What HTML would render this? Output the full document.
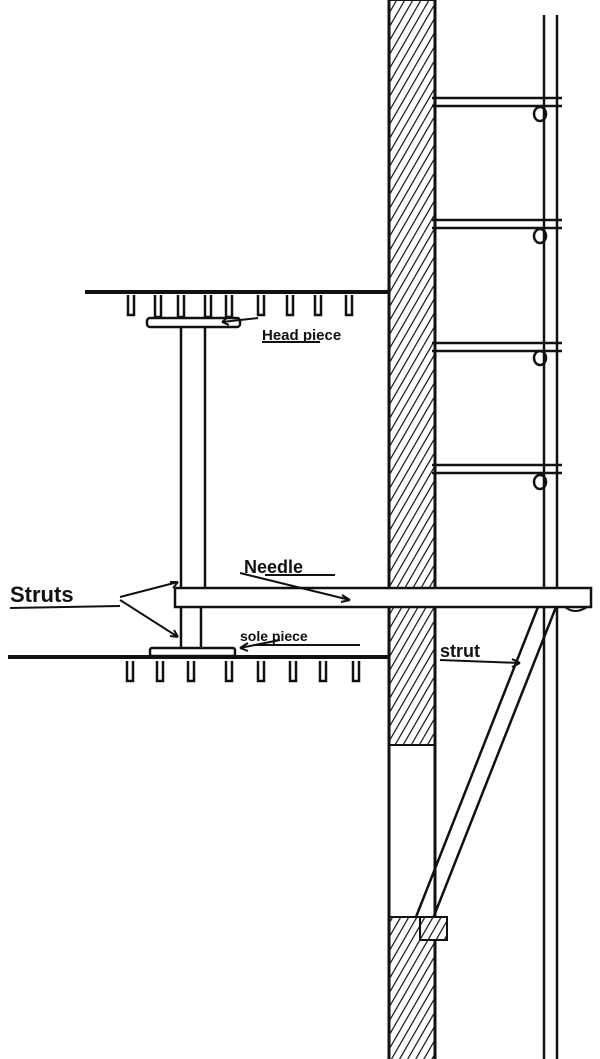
<!DOCTYPE html>
<html><head><style>
html,body{margin:0;padding:0;background:#fff;}
svg{display:block;}
text{font-family:"Liberation Sans",sans-serif;font-weight:bold;fill:#111;}
</style></head><body>
<svg width="600" height="1059" viewBox="0 0 600 1059" xmlns="http://www.w3.org/2000/svg">
<defs>
<pattern id="h" width="7" height="7" patternUnits="userSpaceOnUse" patternTransform="rotate(30)">
<rect width="7" height="7" fill="#fff"/>
<line x1="0" y1="0" x2="0" y2="7" stroke="#111" stroke-width="2.4"/>
</pattern>
</defs>
<g stroke="#111" stroke-width="2" fill="none">
<!-- wall -->
<rect x="389" y="0" width="46" height="588" fill="url(#h)"/>
<rect x="389" y="607" width="46" height="138" fill="url(#h)"/>
<rect x="389" y="745" width="46" height="172" fill="#fff"/>
<rect x="389" y="917" width="46" height="145" fill="url(#h)"/>
<line x1="389" y1="0" x2="389" y2="1059" stroke-width="3"/>
<line x1="435" y1="0" x2="435" y2="1059" stroke-width="3"/>
<!-- ladder -->
<line x1="544" y1="15" x2="544" y2="1059" stroke-width="2.5"/>
<line x1="557" y1="15" x2="557" y2="1059" stroke-width="2.5"/>
<g stroke-width="2.5">
<line x1="432" y1="98" x2="562" y2="98"/><line x1="432" y1="106" x2="562" y2="106"/>
<line x1="432" y1="220" x2="562" y2="220"/><line x1="432" y1="228" x2="562" y2="228"/>
<line x1="432" y1="343" x2="562" y2="343"/><line x1="432" y1="351" x2="562" y2="351"/>
<line x1="432" y1="465" x2="562" y2="465"/><line x1="432" y1="473" x2="562" y2="473"/>
</g>
<g stroke-width="2.5">
<ellipse cx="540" cy="114" rx="6" ry="7"/><ellipse cx="540" cy="236" rx="6" ry="7"/>
<ellipse cx="540" cy="358" rx="6" ry="7"/><ellipse cx="540" cy="482" rx="6" ry="7"/>
</g>
<!-- upper floor -->
<line x1="85" y1="292" x2="389" y2="292" stroke-width="4"/>
<g stroke-width="2.5">
<path d="M128 295v20h6v-20M155 295v22h6v-22M178 295v22h6v-22M205 295v22h6v-22M226 295v22h6v-22M258 295v20h6v-20M287 295v20h6v-20M315 295v20h6v-20M346 295v20h6v-20"/>
</g>
<rect x="147" y="318" width="93" height="9" rx="3" fill="#fff" stroke-width="2.5"/>
<line x1="181" y1="327" x2="181" y2="588" stroke-width="2.5"/>
<line x1="205" y1="327" x2="205" y2="588" stroke-width="2.5"/>
<!-- needle -->
<rect x="175" y="588" width="416" height="19" fill="#fff" stroke-width="2.5"/>
<path d="M565 607 q10 8 22 0" stroke-width="2"/>
<!-- lower -->
<line x1="181" y1="607" x2="181" y2="648" stroke-width="2.5"/>
<line x1="201" y1="607" x2="201" y2="648" stroke-width="2.5"/>
<rect x="150" y="648" width="85" height="8" rx="2" fill="#fff" stroke-width="2.5"/>
<line x1="8" y1="657" x2="389" y2="657" stroke-width="4"/>
<path d="M127 661v20h6v-20M157 661v20h6v-20M188 661v20h6v-20M226 661v20h6v-20M258 661v20h6v-20M290 661v20h6v-20M320 661v20h6v-20M353 661v20h6v-20" stroke-width="2.5"/>
<!-- diagonal strut -->
<line x1="538" y1="607" x2="416" y2="917" stroke-width="2.5"/>
<line x1="556" y1="607" x2="432" y2="921" stroke-width="2.5"/>
<rect x="420" y="917" width="27" height="23" fill="url(#h)" stroke-width="2"/>
<!-- arrows -->
<path d="M258 318 L222 322 M222 322 l6 -5 M222 322 l7 3"/>
<path d="M240 573 L350 600 M350 600 l-8 -5 M350 600 l-9 2"/>
<path d="M280 640 L240 648 M240 648 l8 -5 M240 648 l8 3"/>
<path d="M120 597 L178 582 M178 582 l-8 0 M178 582 l-5 6"/>
<path d="M120 600 L178 637 M178 637 l-4 -7 M178 637 l-8 -1"/>
<line x1="440" y1="660" x2="520" y2="663"/>
<path d="M520 663 l-8 -4 M520 663 l-8 4"/>
<line x1="253" y1="645" x2="360" y2="645"/>
<line x1="265" y1="575" x2="335" y2="575"/>
<line x1="262" y1="342" x2="320" y2="342"/>
<line x1="10" y1="608" x2="120" y2="606"/>
</g>
<text x="262" y="340" font-size="15">Head piece</text>
<text x="244" y="573" font-size="18">Needle</text>
<text x="240" y="641" font-size="14">sole piece</text>
<text x="10" y="602" font-size="22">Struts</text>
<text x="440" y="657" font-size="18">strut</text>
</svg>
</body></html>
